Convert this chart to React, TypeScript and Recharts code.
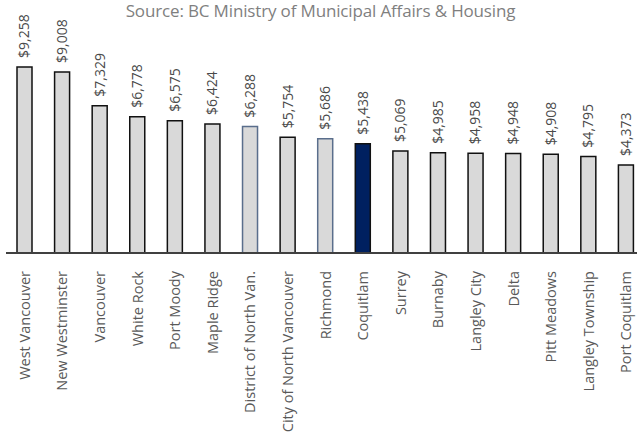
import { BarChart, Bar, XAxis, YAxis, Cell, LabelList } from 'recharts';

const municipalities = [
  'West Vancouver',
  'New Westminster',
  'Vancouver',
  'White Rock',
  'Port Moody',
  'Maple Ridge',
  'District of North Van.',
  'City of North Vancouver',
  'Richmond',
  'Coquitlam',
  'Surrey',
  'Burnaby',
  'Langley City',
  'Delta',
  'Pitt Meadows',
  'Langley Township',
  'Port Coquitlam',
];

const taxes = [9258, 9008, 7329, 6778, 6575, 6424, 6288, 5754, 5686, 5438, 5069, 4985, 4958, 4948, 4908, 4795, 4373];

// which municipalities get the highlight treatment
const outlined = ['District of North Van.', 'Richmond'];
const featured = 'Coquitlam';

const data = municipalities.map((name, i) => ({ name, tax: taxes[i] }));

const FONT = '"Open Sans", sans-serif';

const fmt = (v: number) => '$' + v.toLocaleString('en-US');

const CityTick = ({ x, y, payload }: any) => (
  <text
    x={x}
    y={y + 10}
    transform={`rotate(-90, ${x}, ${y + 10})`}
    textAnchor="end"
    dy="0.35em"
    fill="#595959"
    fontSize={14.5}
    fontFamily={FONT}
  >
    {payload.value}
  </text>
);

const ValueLabel = ({ x, y, width, value }: any) => {
  const cx = x + width / 2;
  const ty = y - 9;
  return (
    <text
      x={cx}
      y={ty}
      transform={`rotate(-90, ${cx}, ${ty})`}
      textAnchor="start"
      dy="0.35em"
      fill="#4a4a4a"
      fontSize={14}
      fontFamily={FONT}
    >
      {fmt(value)}
    </text>
  );
};

export default function App() {
  return (
    <div style={{ position: 'fixed', left: 0, top: 0, width: 637, height: 432, overflow: 'hidden', background: '#fff' }}>
      <div
        style={{
          position: 'absolute',
          top: 0,
          left: 0,
          width: 641,
          textAlign: 'center',
          fontFamily: FONT,
          fontSize: 17,
          lineHeight: '22px',
          color: '#7f7f7f',
          letterSpacing: '-0.15px',
        }}
      >
        Source: BC Ministry of Municipal Affairs &amp; Housing
      </div>
      <BarChart
        width={660}
        height={432}
        data={data}
        margin={{ top: 52, right: 15, left: 6, bottom: 0 }}
        barCategoryGap={0}
      >
        <XAxis
          dataKey="name"
          interval={0}
          height={179}
          tick={<CityTick />}
          tickLine={false}
          axisLine={{ stroke: '#404040', strokeWidth: 2 }}
        />
        <YAxis hide domain={[0, 10000]} />
        <Bar dataKey="tax" barSize={15} strokeWidth={1.5} isAnimationActive={false}>
          {data.map((d) => (
            <Cell
              key={d.name}
              fill={d.name === featured ? '#002060' : '#d9d9d9'}
              stroke={outlined.includes(d.name) ? '#5a6e8c' : '#111111'}
            />
          ))}
          <LabelList dataKey="tax" content={<ValueLabel />} />
        </Bar>
      </BarChart>
    </div>
  );
}
